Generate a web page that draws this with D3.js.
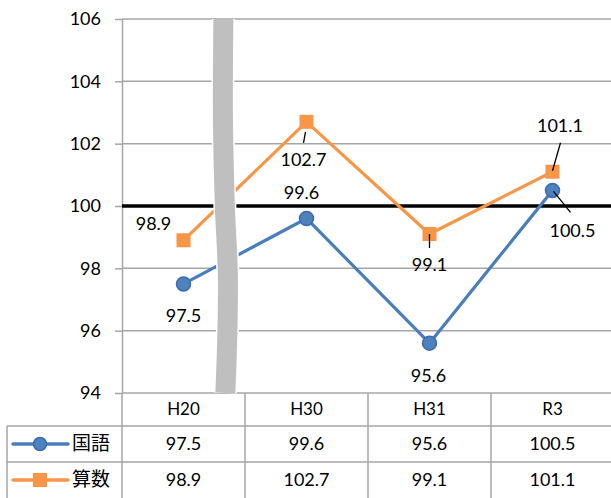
<!DOCTYPE html>
<html>
<head>
<meta charset="utf-8">
<script src="https://cdn.jsdelivr.net/npm/d3@7"></script>
<style>
  html, body { margin: 0; padding: 0; background: #fff; }
  svg { display: block; }
  text { font-family: Lato, "Noto Sans CJK JP", sans-serif; fill: #000; }
</style>
</head>
<body>
<svg id="chart" width="611" height="498"></svg>
<script>
// Survey years and scores (national average = 100)
const categories = ["H20", "H30", "H31", "R3"];
const kokugo = [97.5, 99.6, 95.6, 100.5];
const sansu = [98.9, 102.7, 99.1, 101.1];
const seriesNames = ["国語", "算数"];
const yTicks = [94, 96, 98, 100, 102, 104, 106];
const baseline = 100;

const W = 611, H = 498;
const plotLeft = 122, plotRight = 614, plotTop = 19, plotBottom = 393;
const rowH = 36, headerH = 33, tableLeft = 7;

const svg = d3.select("#chart");

const x = d3.scaleBand().domain(categories).range([plotLeft, plotRight]).padding(0);
const y = d3.scaleLinear().domain([94, 106]).range([plotBottom, plotTop]);
const cx = c => x(c) + x.bandwidth() / 2;

const gridColor = "#a6a6a6";
const blue = "#4a7ebb", blueFill = "#4f81bd", blueEdge = "#3c6cab";
const orange = "#f79646";

// horizontal gridlines
svg.append("g").selectAll("line")
  .data(yTicks.filter(v => v !== 94 && v !== baseline))
  .join("line")
  .attr("x1", plotLeft).attr("x2", W)
  .attr("y1", d => y(d)).attr("y2", d => y(d))
  .attr("stroke", gridColor).attr("stroke-width", 1.5);

// y axis
const yAxis = svg.append("g")
  .attr("transform", `translate(${plotLeft},0)`)
  .call(d3.axisLeft(y).tickValues(yTicks).tickSize(7).tickSizeOuter(0).tickPadding(14));
yAxis.select(".domain").attr("stroke", gridColor).attr("stroke-width", 1.5);
yAxis.selectAll(".tick line").attr("stroke", gridColor).attr("stroke-width", 1.5);
yAxis.selectAll(".tick text").style("font-size", "18px").style("font-family", "Lato, sans-serif").attr("fill", "#000");

// data table grid below the plot
const tableTop = plotBottom;
const t = svg.append("g").attr("stroke", gridColor).attr("stroke-width", 1.5);
t.append("line").attr("x1", plotLeft).attr("x2", W).attr("y1", tableTop).attr("y2", tableTop);
[1, 2].forEach(i => {
  const yy = tableTop + headerH + (i - 1) * rowH;
  t.append("line").attr("x1", tableLeft).attr("x2", W).attr("y1", yy).attr("y2", yy);
});
t.append("line").attr("x1", tableLeft).attr("x2", tableLeft)
  .attr("y1", tableTop + headerH).attr("y2", H);
categories.forEach(c => {
  t.append("line").attr("x1", x(c)).attr("x2", x(c)).attr("y1", tableTop).attr("y2", H);
});

// header labels
svg.append("g").selectAll("text").data(categories).join("text")
  .attr("x", d => cx(d)).attr("y", tableTop + headerH / 2 + 1)
  .attr("text-anchor", "middle").attr("dominant-baseline", "middle")
  .style("font-size", "17px").text(d => d);

// table values
[kokugo, sansu].forEach((vals, r) => {
  const rowMid = tableTop + headerH + r * rowH + rowH / 2;
  svg.append("g").selectAll("text").data(vals).join("text")
    .attr("x", (d, i) => cx(categories[i])).attr("y", rowMid + 1)
    .attr("text-anchor", "middle").attr("dominant-baseline", "middle")
    .style("font-size", "18px").text(d => d.toFixed(1));
});

// legend keys inside the table rows
seriesNames.forEach((name, r) => {
  const rowMid = tableTop + headerH + r * rowH + rowH / 2;
  const col = r === 0 ? blue : orange;
  const g = svg.append("g");
  g.append("line").attr("x1", 13).attr("x2", 68).attr("y1", rowMid).attr("y2", rowMid)
    .attr("stroke", col).attr("stroke-width", 3.5).attr("stroke-linecap", "round");
  if (r === 0) {
    g.append("circle").attr("cx", 40).attr("cy", rowMid).attr("r", 6.5)
      .attr("fill", blueFill).attr("stroke", blueEdge).attr("stroke-width", 1.5);
  } else {
    g.append("rect").attr("x", 33).attr("y", rowMid - 7).attr("width", 14).attr("height", 14)
      .attr("fill", orange);
  }
  g.append("text").attr("x", 72).attr("y", rowMid + 1).attr("dominant-baseline", "middle")
    .style("font-family", "'Noto Sans CJK JP', sans-serif").style("font-size", "19px")
    .text(name);
});

// baseline at 100
svg.append("line")
  .attr("x1", plotLeft).attr("x2", W)
  .attr("y1", y(baseline)).attr("y2", y(baseline))
  .attr("stroke", "#000").attr("stroke-width", 3.5);

// series lines
const line = d3.line().x((d, i) => cx(categories[i])).y(d => y(d));
svg.append("path").datum(kokugo).attr("d", line)
  .attr("fill", "none").attr("stroke", blue).attr("stroke-width", 3.2).attr("stroke-linejoin", "round");
svg.append("path").datum(sansu).attr("d", line)
  .attr("fill", "none").attr("stroke", orange).attr("stroke-width", 3.2).attr("stroke-linejoin", "round");

// axis break band between H20 and H30
const step = x.step();
const bx = x("H20") + step * 0.82;
const breakPts = [
  [bx + 0.5, plotTop], [bx, y(104)], [bx + 0.2, y(102.4)], [bx + 2, y(100)],
  [bx + 5, y(97.8)], [bx + 4.5, y(95.9)], [bx + 2.5, plotBottom]
];
const bandPath = d3.line().curve(d3.curveCatmullRom)(breakPts);
svg.append("path").attr("d", bandPath).attr("fill", "none")
  .attr("stroke", "#fff").attr("stroke-width", 23);
svg.append("path").attr("d", bandPath).attr("fill", "none")
  .attr("stroke", "#bfbfbf").attr("stroke-width", 20);

// markers
svg.append("g").selectAll("rect").data(sansu).join("rect")
  .attr("x", (d, i) => cx(categories[i]) - 7).attr("y", d => y(d) - 7)
  .attr("width", 14).attr("height", 14).attr("fill", orange);
svg.append("g").selectAll("circle").data(kokugo).join("circle")
  .attr("cx", (d, i) => cx(categories[i])).attr("cy", d => y(d)).attr("r", 7)
  .attr("fill", blueFill).attr("stroke", blueEdge).attr("stroke-width", 1.5);

// data labels: offsets from each point, with optional leader lines
const kokugoLabels = [
  { dx: 0, dy: 33 }, { dx: -5, dy: -25 }, { dx: -1, dy: 33 },
  { dx: 20, dy: 41, leader: [[1, 1], [18, 22]] }
];
const sansuLabels = [
  { dx: -30, dy: -16 }, { dx: -3, dy: 39, leader: [[-1, 10], [-3, 21]] },
  { dx: 0, dy: 31, leader: [[0, 0], [0, 14]] },
  { dx: 7.5, dy: -45, leader: [[0, -1], [8, -29]] }
];
function drawLabels(vals, offs) {
  const g = svg.append("g");
  vals.forEach((v, i) => {
    const px = cx(categories[i]), py = y(v), o = offs[i];
    if (o.leader) {
      g.append("line")
        .attr("x1", px + o.leader[0][0]).attr("y1", py + o.leader[0][1])
        .attr("x2", px + o.leader[1][0]).attr("y2", py + o.leader[1][1])
        .attr("stroke", "#000").attr("stroke-width", 1.3);
    }
    g.append("text").attr("x", px + o.dx).attr("y", py + o.dy + 1)
      .attr("text-anchor", "middle").attr("dominant-baseline", "middle")
      .style("font-size", "18px").text(v.toFixed(1));
  });
}
drawLabels(kokugo, kokugoLabels);
drawLabels(sansu, sansuLabels);
</script>
</body>
</html>
